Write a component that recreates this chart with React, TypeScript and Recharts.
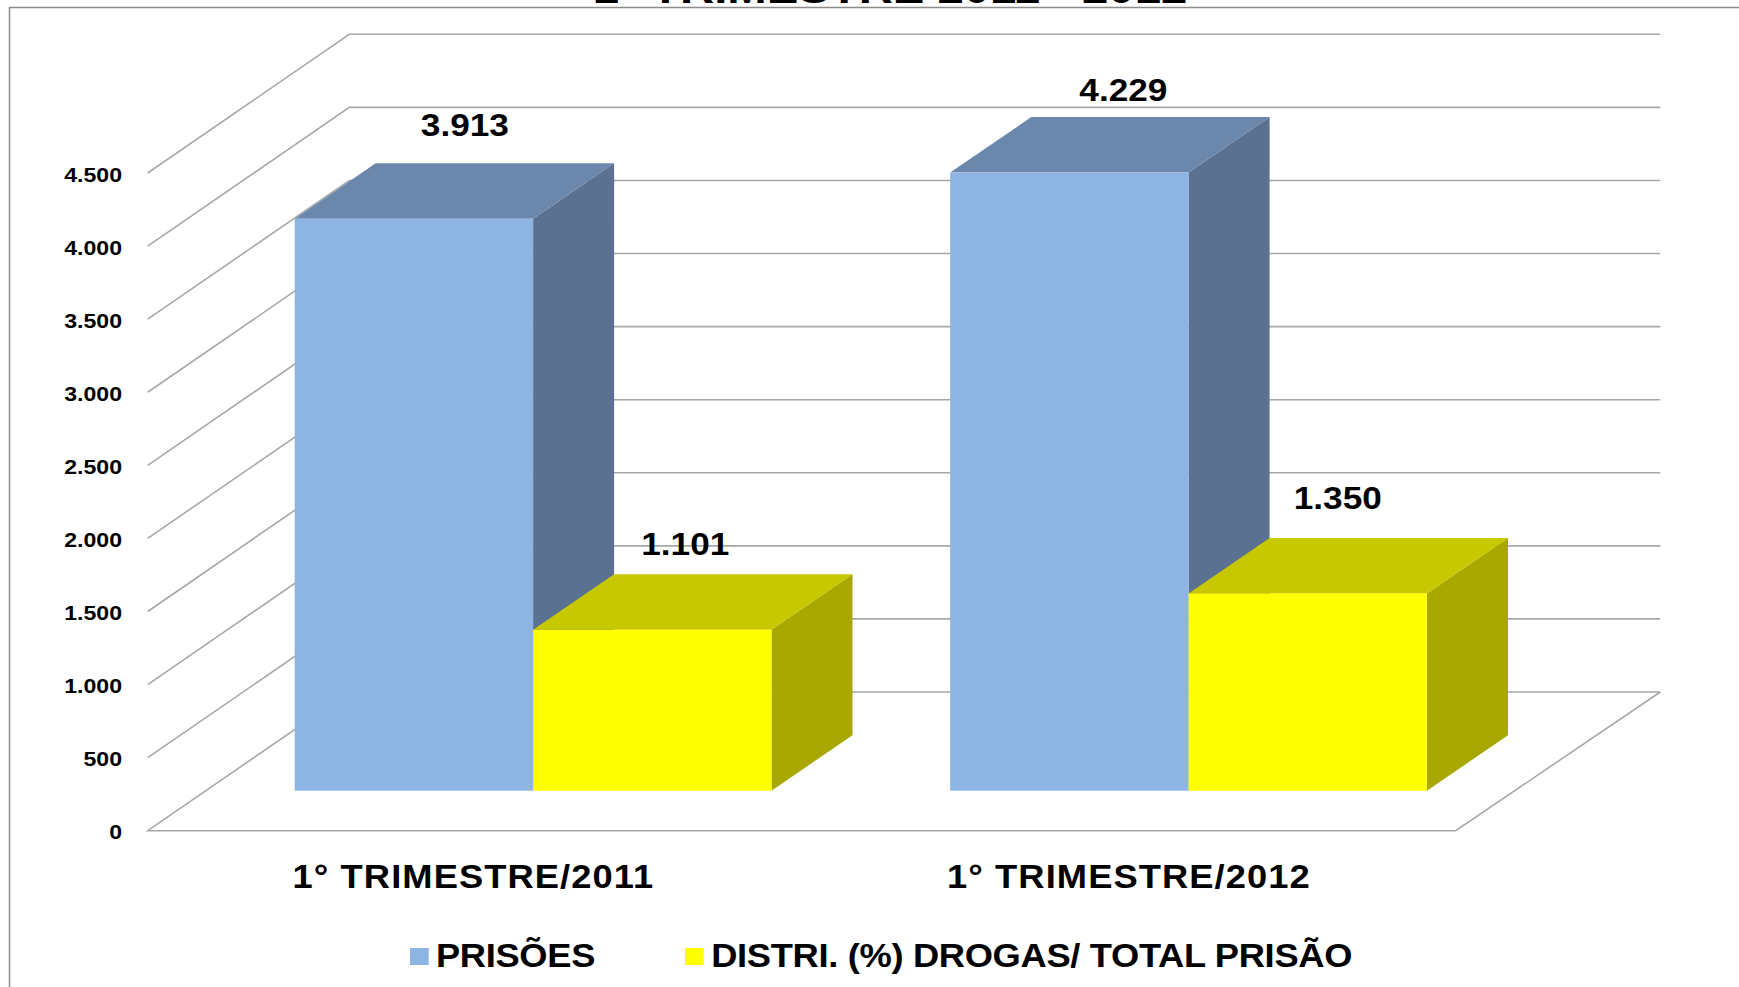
import { Bar, BarChart, CartesianGrid, LabelList, Legend, XAxis, YAxis } from "recharts";

const categories = ["1° TRIMESTRE/2011", "1° TRIMESTRE/2012"];
const prisoes = [3913, 4229];
const distri = [1101, 1350];
const yTicks = [0, 500, 1000, 1500, 2000, 2500, 3000, 3500, 4000, 4500];

const data = categories.map((name, i) => ({ name, prisoes: prisoes[i], distri: distri[i] }));

const WIDTH = 1739;
const HEIGHT = 987;
const FONT = "'Liberation Sans', Arial, sans-serif";
const GRID = "#a8a8a8";
const STRETCH = 1.1; // the source image is a bit wider than tall, text included

// the bars stand on a plane inside the fake 3D box, these are the box offsets from it
const FRONT = { dx: -58, dy: 40 };
const BACK = { dx: 143.6, dy: -98.7 };
const DEPTH = { dx: 81, dy: -55.5 };
// axes need at least 1px or they draw nothing
const MARGIN = { top: 133, right: 222.3, bottom: 195.3, left: 204.7 };

const BLUE = { front: "#8eb4e3", top: "#6c87ac", side: "#5a7191" };
const YELLOW = { front: "#ffff00", top: "#c8c800", side: "#a8a800" };

// hand placed labels in the original, offset from the centre of the bar front
const prisoesNudge = [
  { dx: 51, dy: -94 },
  { dx: 54, dy: -83 },
];
const distriNudge = [
  { dx: 33, dy: -86 },
  { dx: 30, dy: -95 },
];

const fmt = (v: number) => String(v).replace(/\B(?=(\d{3})+$)/g, ".");

function WideText({ x, y, size, anchor = "middle", spacing = 0, children }: any) {
  return (
    <text
      transform={`translate(${x},${y}) scale(${STRETCH},1)`}
      textAnchor={anchor}
      dominantBaseline="central"
      fontFamily={FONT}
      fontWeight="bold"
      fontSize={size}
      letterSpacing={spacing}
      fill="#000"
    >
      {children}
    </text>
  );
}

function Box3D(props: any, colors: typeof BLUE) {
  const { x, y, width, height } = props;
  const { dx, dy } = DEPTH;
  return (
    <g>
      <path
        d={`M${x + width},${y} L${x + width + dx},${y + dy} L${x + width + dx},${y + height + dy} L${x + width},${y + height} Z`}
        fill={colors.side}
      />
      <path
        d={`M${x},${y} L${x + dx},${y + dy} L${x + width + dx},${y + dy} L${x + width},${y} Z`}
        fill={colors.top}
      />
      <rect x={x} y={y} width={width} height={height} fill={colors.front} />
    </g>
  );
}

function gridLine(props: any) {
  const { x1, x2, y1, index } = props;
  const isFloor = y1 >= HEIGHT - MARGIN.bottom - 2;
  const frontX = x1 + FRONT.dx;
  const frontY = y1 + FRONT.dy;
  const backX = x1 + BACK.dx;
  const backY = y1 + BACK.dy;
  const backEnd = x2 + BACK.dx;
  const d = isFloor
    ? `M${backEnd},${backY} L${backX},${backY} L${frontX},${frontY} L${x2 + FRONT.dx - 3},${frontY} L${backEnd},${backY}`
    : `M${frontX},${frontY} L${backX},${backY} L${backEnd},${backY}`;
  return <path key={`grid-${index}`} d={d} fill="none" stroke={GRID} strokeWidth={1.6} />;
}

function YTick({ y, payload }: any) {
  return (
    <WideText x={122} y={y + FRONT.dy + 1.5} size={21} anchor="end">
      {fmt(payload.value)}
    </WideText>
  );
}

function XTick({ x, y, payload }: any) {
  return (
    <WideText x={x + FRONT.dx - 2} y={y + 78} size={33} spacing={1}>
      {payload.value}
    </WideText>
  );
}

function valueLabel(nudges: { dx: number; dy: number }[]) {
  return function ValueLabel({ x, y, width, value, index }: any) {
    const n = nudges[index];
    return (
      <WideText x={x + width / 2 + n.dx} y={y + n.dy} size={32}>
        {fmt(value)}
      </WideText>
    );
  };
}

function LegendRow({ payload }: any) {
  const gaps = [0, 82];
  return (
    <div
      style={{
        display: "flex",
        alignItems: "center",
        fontFamily: FONT,
        fontWeight: "bold",
        fontSize: 33,
        letterSpacing: -0.3,
        color: "#000",
        whiteSpace: "nowrap",
        transform: `scaleX(${STRETCH})`,
        transformOrigin: "left center",
      }}
    >
      {(payload ?? []).map((item: any, i: number) => (
        <span key={item.value} style={{ display: "flex", alignItems: "center", marginLeft: gaps[i] }}>
          <span
            style={{ width: 17, height: 17, background: item.color, marginRight: 6.6, display: "inline-block" }}
          />
          {item.value}
        </span>
      ))}
    </div>
  );
}

export default function App() {
  return (
    <div style={{ position: "absolute", left: 0, top: 0, width: WIDTH, height: HEIGHT, overflow: "hidden", background: "#fff" }}>
      <BarChart width={WIDTH} height={HEIGHT} data={data} margin={MARGIN} barGap={0} barSize={238.4}>
        <path d={`M9.5,${HEIGHT} L9.5,7.5 L${WIDTH},7.5`} fill="none" stroke="#8c8c8c" strokeWidth={1.5} />
        <text
          transform={`translate(890,3) scale(${STRETCH},1)`}
          textAnchor="middle"
          fontFamily={FONT}
          fontWeight="bold"
          fontSize={43}
          fill="#000"
        >
          1° TRIMESTRE 2011 - 2012
        </text>
        <CartesianGrid vertical={false} horizontal={gridLine} />
        <XAxis
          dataKey="name"
          height={1}
          axisLine={false}
          tickLine={false}
          interval={0}
          tick={XTick}
        />
        <YAxis
          width={1}
          domain={[0, 4500]}
          ticks={yTicks}
          interval={0}
          axisLine={false}
          tickLine={false}
          tick={YTick}
        />
        <Legend
          content={LegendRow}
          verticalAlign="middle"
          itemSorter={null}
          wrapperStyle={{ position: "absolute", left: 410, top: 937, width: "auto", height: "auto" }}
        />
        <Bar
          dataKey="prisoes"
          name="PRISÕES"
          fill={BLUE.front}
          isAnimationActive={false}
          shape={(p: any) => Box3D(p, BLUE)}
        >
          <LabelList dataKey="prisoes" content={valueLabel(prisoesNudge)} />
        </Bar>
        <Bar
          dataKey="distri"
          name="DISTRI. (%) DROGAS/ TOTAL PRISÃO"
          fill={YELLOW.front}
          isAnimationActive={false}
          shape={(p: any) => Box3D(p, YELLOW)}
        >
          <LabelList dataKey="distri" content={valueLabel(distriNudge)} />
        </Bar>
      </BarChart>
    </div>
  );
}
